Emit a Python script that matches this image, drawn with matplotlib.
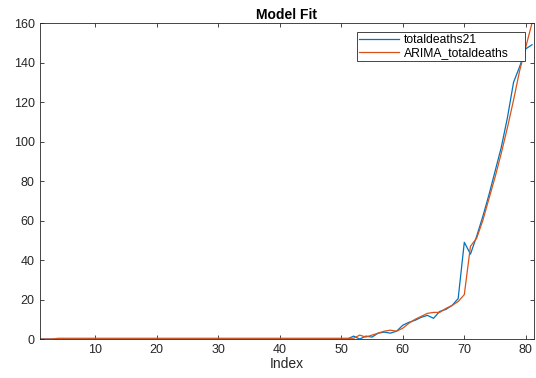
import matplotlib.pyplot as plt
import numpy as np

plt.rcParams['font.family'] = ['Liberation Sans', 'DejaVu Sans']

# index 1..81
index = np.arange(1, 82)

# observed series (first 51 days are zero)
totaldeaths21 = [0] * 51 + [
    1.5, 0, 1.5, 1, 3, 3.5, 3, 4, 7, 8.5,
    9.5, 11, 12, 10.5, 14, 15, 17, 20.5, 49, 43,
    52, 62, 73, 85, 97, 112, 130, 138, 147, 149,
]

# ARIMA fitted values
arima_totaldeaths = [0, 0, 0] + [0.4] * 49 + [
    2, 1, 2, 3, 4, 4.5, 4, 5.5, 8,
    10, 11.5, 13, 13.5, 13.5, 15.5, 17, 19, 22.5, 47,
    51, 60, 71, 82, 94, 107, 121, 136, 148, 160,
]

fig = plt.figure(figsize=(5.36, 3.78), dpi=100)
ax = fig.add_axes([0.074, 0.103, 0.922, 0.836])

ax.plot(index, totaldeaths21, color='#0072BD', linewidth=0.9, label='totaldeaths21')
ax.plot(index, arima_totaldeaths, color='#D95319', linewidth=0.9, label='ARIMA_totaldeaths')

ax.set_xlim(1, 81.3)
ax.set_ylim(0, 160)
ax.set_xticks(np.arange(10, 81, 10))
ax.set_yticks(np.arange(0, 161, 20))
ax.tick_params(direction='in', top=True, right=True, length=3, width=0.6,
               colors='#262626', labelsize=9)
for s in ax.spines.values():
    s.set_color('#262626')
    s.set_linewidth(0.6)

ax.set_title('Model Fit', fontsize=10, fontweight='bold', pad=3)
ax.set_xlabel('Index', fontsize=10, color='#262626', labelpad=1)

leg = ax.legend(loc='upper right', bbox_to_anchor=(0.642, 0.80, 0.34, 0.172),
                mode='expand', fontsize=8.7,
                handlelength=3.3, fancybox=False, framealpha=1,
                borderpad=0.2, labelspacing=0.05, handletextpad=0.4,
                borderaxespad=0)
leg.get_frame().set_edgecolor('#262626')
leg.get_frame().set_linewidth(0.6)

plt.savefig('out.png', dpi=100)
